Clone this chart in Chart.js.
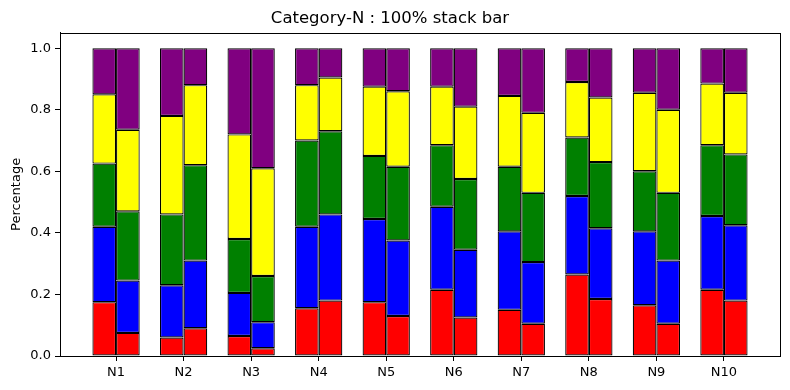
<!DOCTYPE html>
<html>
<head>
<meta charset="utf-8">
<script src="https://cdn.jsdelivr.net/npm/chart.js@4"></script>
<style>
  body { margin: 0; background: #fff; }
  #wrap { width: 790px; height: 390px; }
</style>
</head>
<body>
<div id="wrap"><canvas id="chartDisplay"></canvas></div>
<script>
const labels = ['N1','N2','N3','N4','N5','N6','N7','N8','N9','N10'];
// first bar of each pair
const redA    = [0.175, 0.06, 0.065, 0.155, 0.175, 0.215, 0.15, 0.265, 0.165, 0.215];
const blueA   = [0.245, 0.17, 0.14, 0.265, 0.27, 0.27, 0.255, 0.255, 0.24, 0.24];
const greenA  = [0.205, 0.23, 0.175, 0.28, 0.205, 0.20, 0.21, 0.19, 0.195, 0.23];
const yellowA = [0.225, 0.32, 0.34, 0.18, 0.225, 0.19, 0.23, 0.18, 0.255, 0.20];
const purpleA = [0.15, 0.22, 0.28, 0.12, 0.125, 0.125, 0.155, 0.11, 0.145, 0.115];
// second bar of each pair
const redB    = [0.075, 0.09, 0.025, 0.18, 0.13, 0.125, 0.105, 0.185, 0.105, 0.18];
const blueB   = [0.17, 0.22, 0.085, 0.28, 0.245, 0.22, 0.20, 0.23, 0.205, 0.245];
const greenB  = [0.225, 0.31, 0.15, 0.27, 0.24, 0.23, 0.225, 0.215, 0.22, 0.23];
const yellowB = [0.265, 0.26, 0.35, 0.175, 0.245, 0.235, 0.26, 0.21, 0.27, 0.20];
const purpleB = [0.265, 0.12, 0.39, 0.095, 0.14, 0.19, 0.21, 0.16, 0.20, 0.145];

const colors = ['red', 'blue', 'green', 'yellow', 'purple'];

Chart.defaults.font.family = 'DejaVu Sans';
Chart.defaults.font.size = 13;
Chart.defaults.color = '#000';

// bars sit on a linear x scale so the side margins can match
function toPoints(arr){
    return arr.map((v, i) => ({x: i, y: v}));
}

function makeSet(arr, color, stack){
    return {
        data: toPoints(arr),
        backgroundColor: color,
        borderColor: '#000',
        borderWidth: 1.2,
        borderSkipped: false,
        stack: stack,
        categoryPercentage: 0.7,
        barPercentage: 1.0
    };
}

const setsA = [redA, blueA, greenA, yellowA, purpleA].map((a, i) => makeSet(a, colors[i], 'a'));
const setsB = [redB, blueB, greenB, yellowB, purpleB].map((a, i) => makeSet(a, colors[i], 'b'));

// box round the plot area
const frame = {
    id: 'frame',
    afterDraw(chart){
        const a = chart.chartArea;
        const ctx = chart.ctx;
        ctx.save();
        ctx.strokeStyle = '#000';
        ctx.lineWidth = 1;
        ctx.strokeRect(Math.round(a.left) + 0.5, Math.round(a.top) + 0.5,
            Math.round(a.right - a.left), Math.round(a.bottom - a.top));
        ctx.restore();
    }
};

new Chart(document.getElementById('chartDisplay'), {
    type: 'bar',
    data: { datasets: setsA.concat(setsB) },
    plugins: [frame],
    options: {
        responsive: true,
        maintainAspectRatio: false,
        animation: false,
        layout: { padding: { left: 0, right: 10, top: 0, bottom: 0 } },
        plugins: {
            legend: { display: false },
            tooltip: { enabled: false },
            title: {
                display: true,
                text: 'Category-N : 100% stack bar',
                font: { size: 16.5, weight: 'normal' },
                color: '#000',
                padding: { top: 9, bottom: 4 }
            }
        },
        scales: {
            x: {
                type: 'linear',
                min: -0.83,
                max: 9.83,
                stacked: true,
                offset: false,
                afterBuildTicks: s => { s.ticks = labels.map((_, i) => ({ value: i })); },
                afterFit: s => { s.height = 34; },
                ticks: {
                    callback: v => labels[v],
                    maxRotation: 0,
                    autoSkip: false,
                    padding: 4
                },
                grid: { display: true, offset: false, drawOnChartArea: false, tickLength: 5, color: '#000' },
                border: { display: true, color: '#000' }
            },
            y: {
                min: 0,
                max: 1.05,
                stacked: true,
                afterFit: s => { s.width = 60; },
                ticks: {
                    stepSize: 0.2,
                    includeBounds: false,
                    callback: v => v.toFixed(1),
                    padding: 4
                },
                grid: { display: true, drawOnChartArea: false, tickLength: 5, color: '#000' },
                border: { display: true, color: '#000' },
                title: {
                    display: true,
                    text: 'Percentage',
                    font: { size: 13 },
                    padding: { top: 9, bottom: 0 }
                }
            }
        }
    }
});
</script>
</body>
</html>
